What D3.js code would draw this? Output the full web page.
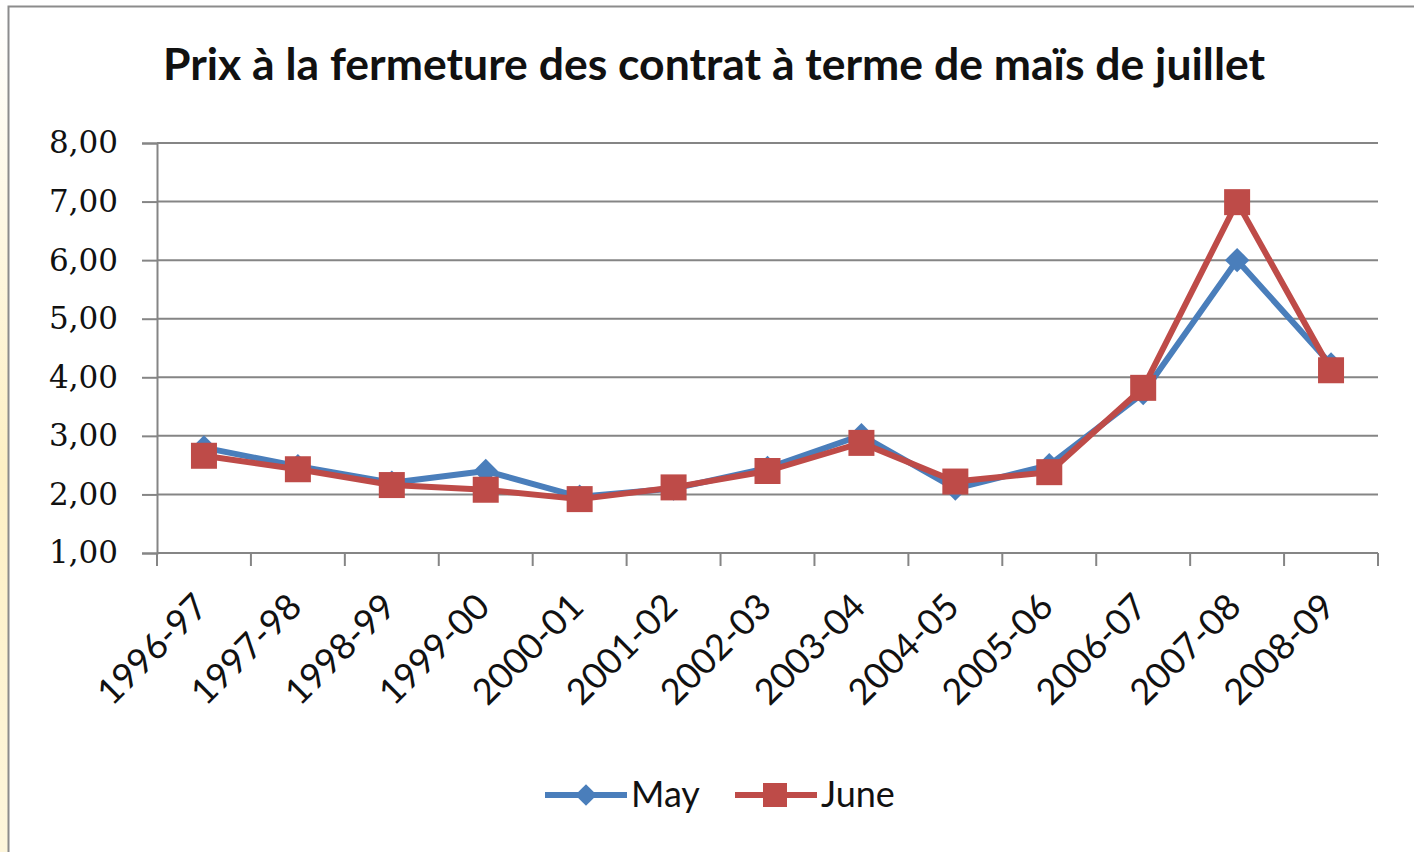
<!DOCTYPE html>
<html>
<meta charset="utf-8">
<head>
    <title>Prix maïs</title>
    <script src="https://d3js.org/d3.v7.min.js"></script>
    <style>
    body { margin: 0; background: white; }
    </style>
</head>
<body>
<script>

// Data
var seasons = ["1996-97", "1997-98", "1998-99", "1999-00", "2000-01", "2001-02", "2002-03",
    "2003-04", "2004-05", "2005-06", "2006-07", "2007-08", "2008-09"];
var mayValues = [2.80, 2.48, 2.20, 2.40, 1.96, 2.10, 2.45, 3.01, 2.10, 2.50, 3.73, 6.00, 4.22];
var juneValues = [2.66, 2.43, 2.16, 2.08, 1.92, 2.12, 2.40, 2.88, 2.22, 2.38, 3.82, 6.99, 4.12];
var yTicks = [1, 2, 3, 4, 5, 6, 7, 8];
var seriesNames = ["May", "June"];

var width = 1414, height = 852;
var plot = {left: 157, right: 1378, top: 143, bottom: 553};

var svg = d3.select("body").append("svg")
    .attr("width", width)
    .attr("height", height);

// yellowish strip at the far left
var grad = svg.append("defs").append("linearGradient")
    .attr("id", "strip").attr("x1", 0).attr("x2", 0).attr("y1", 0).attr("y2", 1);
grad.append("stop").attr("offset", "0%").attr("stop-color", "#ffffff");
grad.append("stop").attr("offset", "55%").attr("stop-color", "#fdf0c4");
grad.append("stop").attr("offset", "100%").attr("stop-color", "#fdf6dc");
svg.append("rect").attr("x", 0).attr("y", 0).attr("width", 8).attr("height", height)
    .attr("fill", "url(#strip)");

// outer frame
svg.append("rect")
    .attr("x", 8.5).attr("y", 6.5)
    .attr("width", width + 10).attr("height", height + 10)
    .attr("fill", "white")
    .attr("stroke", "#8c8c8c")
    .attr("stroke-width", 2);

// French number format
var fr = d3.formatLocale({decimal: ",", thousands: " ", grouping: [3], currency: ["", " €"]});
var fmt = fr.format(".2f");

var x = d3.scaleBand()
    .domain(seasons)
    .range([plot.left, plot.right]);

var y = d3.scaleLinear()
    .domain([1, 8])
    .range([plot.bottom, plot.top]);

// title
svg.append("text")
    .attr("x", 714)
    .attr("y", 80)
    .attr("text-anchor", "middle")
    .style("font-family", "Lato, 'Open Sans', sans-serif")
    .style("font-weight", "bold")
    .style("font-size", "44.5px")
    .attr("fill", "#111")
    .text("Prix à la fermeture des contrat à terme de maïs de juillet");

// horizontal gridlines
svg.append("g")
    .selectAll("line")
    .data(yTicks)
    .enter()
    .append("line")
    .attr("x1", plot.left)
    .attr("x2", plot.right)
    .attr("y1", function(d) { return y(d); })
    .attr("y2", function(d) { return y(d); })
    .attr("stroke", "#858585")
    .attr("stroke-width", 2);

// y axis
var yAxis = svg.append("g")
    .attr("transform", "translate(" + plot.left + ",0)")
    .call(d3.axisLeft(y).tickValues(yTicks).tickFormat(fmt).tickSize(15).tickPadding(24));
yAxis.select(".domain").attr("stroke", "#858585").attr("stroke-width", 2);
yAxis.selectAll(".tick line").attr("stroke", "#858585").attr("stroke-width", 2);
yAxis.selectAll("text")
    .style("font-family", "'DejaVu Serif', 'Liberation Serif', serif")
    .style("font-size", "31px")
    .attr("fill", "#111");

// x axis: ticks between categories
var xAxis = svg.append("g")
    .attr("transform", "translate(0," + plot.bottom + ")");
xAxis.append("line")
    .attr("x1", plot.left).attr("x2", plot.right)
    .attr("stroke", "#858585").attr("stroke-width", 2);
xAxis.selectAll(".xtick")
    .data(seasons.concat(["end"]))
    .enter()
    .append("line")
    .attr("class", "xtick")
    .attr("x1", function(d) { return d === "end" ? plot.right : x(d); })
    .attr("x2", function(d) { return d === "end" ? plot.right : x(d); })
    .attr("y1", 0).attr("y2", 13)
    .attr("stroke", "#858585").attr("stroke-width", 2);
xAxis.selectAll(".xlabel")
    .data(seasons)
    .enter()
    .append("text")
    .attr("class", "xlabel")
    .attr("text-anchor", "end")
    .attr("transform", function(d) {
        return "translate(" + (x(d) + x.bandwidth() / 2 + 6) + ",56) rotate(-45)";
    })
    .style("font-family", "Lato, 'Open Sans', sans-serif")
    .style("font-size", "36px")
    .attr("fill", "#111")
    .text(function(d) { return d; });

// lines
var line = d3.line()
    .x(function(d, i) { return x(seasons[i]) + x.bandwidth() / 2; })
    .y(function(d) { return y(d); });

var blue = "#4a7ebb", red = "#be4b48";

svg.append("path")
    .datum(mayValues)
    .attr("d", line)
    .attr("fill", "none")
    .attr("stroke", blue)
    .attr("stroke-width", 6)
    .attr("stroke-linejoin", "round");

svg.append("g")
    .selectAll("path")
    .data(mayValues)
    .enter()
    .append("path")
    .attr("d", d3.symbol().type(d3.symbolDiamond2).size(380))
    .attr("transform", function(d, i) {
        return "translate(" + (x(seasons[i]) + x.bandwidth() / 2) + "," + y(d) + ")";
    })
    .attr("fill", blue);

svg.append("path")
    .datum(juneValues)
    .attr("d", line)
    .attr("fill", "none")
    .attr("stroke", red)
    .attr("stroke-width", 6)
    .attr("stroke-linejoin", "round");

svg.append("g")
    .selectAll("rect")
    .data(juneValues)
    .enter()
    .append("rect")
    .attr("x", function(d, i) { return x(seasons[i]) + x.bandwidth() / 2 - 13; })
    .attr("y", function(d) { return y(d) - 13; })
    .attr("width", 26)
    .attr("height", 26)
    .attr("fill", red);

// legend
var legend = svg.append("g").attr("transform", "translate(545,795)");
var lx = [0, 190];
seriesNames.forEach(function(name, i) {
    var c = i === 0 ? blue : red;
    var gg = legend.append("g").attr("transform", "translate(" + lx[i] + ",0)");
    gg.append("line").attr("x1", 0).attr("x2", 82).attr("y1", 0).attr("y2", 0)
        .attr("stroke", c).attr("stroke-width", 6);
    if (i === 0) {
        gg.append("path").attr("d", d3.symbol().type(d3.symbolDiamond2).size(300))
            .attr("transform", "translate(41,0)").attr("fill", c);
    } else {
        gg.append("rect").attr("x", 28).attr("y", -12).attr("width", 24).attr("height", 24).attr("fill", c);
    }
    gg.append("text")
        .attr("x", 86).attr("y", 12)
        .style("font-family", "Lato, 'Open Sans', sans-serif")
        .style("font-size", "36px")
        .attr("fill", "#111")
        .text(name);
});

</script>
</body>
</html>
